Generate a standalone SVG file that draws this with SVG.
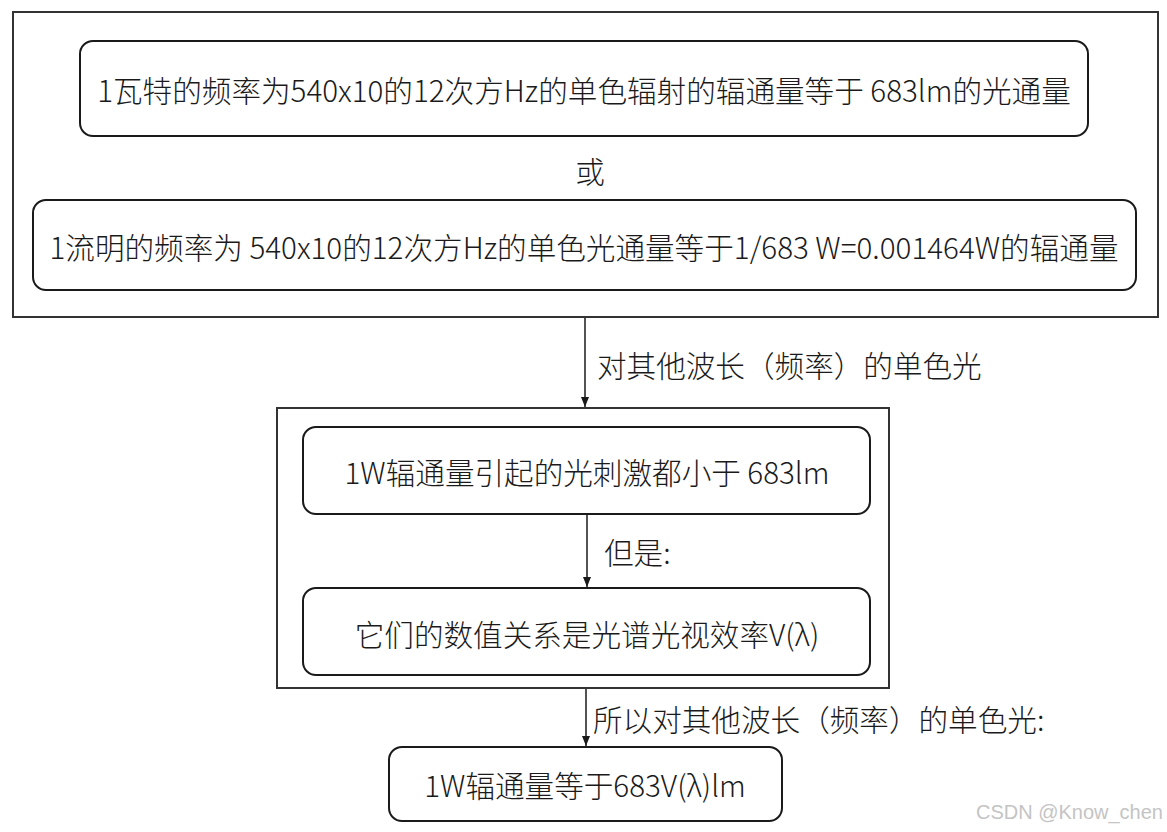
<svg xmlns="http://www.w3.org/2000/svg" width="1167" height="832" viewBox="0 0 1167 832">
<style>
.frame{fill:#fff;stroke:#333;stroke-width:2}
.node{fill:#fff;stroke:#1a1a1a;stroke-width:2}
.t{font-family:"Noto Sans CJK SC","Noto Sans",sans-serif;font-size:29.6px;font-weight:300;fill:#1a1a1a;dominant-baseline:central}
.c{text-anchor:middle}
.edge{stroke:#1a1a1a;stroke-width:1.5;fill:none}
.wm{font-family:"Liberation Sans",Arial,sans-serif;font-size:20px;fill:#c4c4c4}
</style>
<defs>
<marker id="arr" viewBox="0 0 10 10" refX="10" refY="5" markerWidth="10" markerHeight="10" markerUnits="userSpaceOnUse" orient="auto">
<path d="M0,1 L10,5 L0,9 z" fill="#1a1a1a"/>
</marker>
</defs>
<rect width="1167" height="832" fill="#fff"/>
<g id="group1">
<rect class="frame" x="13" y="12" width="1145" height="305"/>
</g>
<g id="group2">
<rect class="frame" x="277" y="408" width="612" height="280"/>
</g>
<g id="nodeA">
<rect class="node" x="80" y="41" width="1008" height="95" rx="13"/>
<text class="t c" x="584" y="89">1瓦特的频率为540x10的12次方Hz的单色辐射的辐通量等于 683lm的光通量</text>
</g>
<g id="or">
<text class="t c" x="590" y="170">或</text>
</g>
<g id="nodeB">
<rect class="node" x="33" y="200" width="1103" height="90" rx="13"/>
<text class="t c" x="584" y="246">1流明的频率为 540x10的12次方Hz的单色光通量等于1/683 W=0.001464W的辐通量</text>
</g>
<g id="nodeC">
<rect class="node" x="303" y="427" width="567" height="87" rx="13"/>
<text class="t c" x="587" y="471">1W辐通量引起的光刺激都小于 683lm</text>
</g>
<g id="nodeD">
<rect class="node" x="303" y="588" width="567" height="87" rx="13"/>
<text class="t c" x="587" y="633">它们的数值关系是光谱光视效率V(λ)</text>
</g>
<g id="nodeE">
<rect class="node" x="389" y="747" width="393" height="74" rx="13"/>
<text class="t c" x="585" y="784">1W辐通量等于683V(λ)lm</text>
</g>
<g id="connectors">
<line class="edge" x1="585" y1="318" x2="585" y2="407" marker-end="url(#arr)"/>
<text class="t" x="597" y="364">对其他波长（频率）的单色光</text>
<line class="edge" x1="587" y1="514" x2="587" y2="587" marker-end="url(#arr)"/>
<text class="t" x="604" y="551">但是:</text>
<line class="edge" x1="586" y1="689" x2="586" y2="746" marker-end="url(#arr)"/>
<text class="t" x="593" y="718">所以对其他波长（频率）的单色光:</text>
</g>
<text class="wm" x="1163" y="819" text-anchor="end">CSDN @Know_chen</text>
</svg>
